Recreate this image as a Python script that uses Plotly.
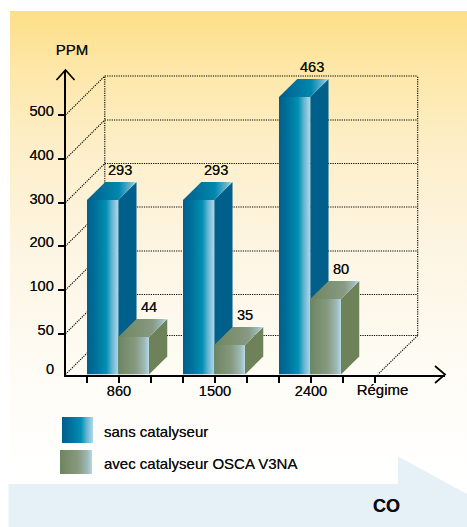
import plotly.graph_objects as go

# ---- data -------------------------------------------------------------
categories = ["860", "1500", "2400"]
sans_labels = [293, 293, 463]
avec_labels = [44, 35, 80]
# bar heights as drawn in the reference, in axis units (the axis is not proportional)
sans_heights = [174.5, 174.5, 277.5]
avec_heights = [37.5, 29.5, 75.5]
y_tick_labels = ["50", "100", "200", "300", "400", "500"]
y_tick_positions = [41, 84.5, 128.5, 172, 215.5, 259.5]
legend_labels = ["sans catalyseur", "avec catalyseur OSCA V3NA"]

# ---- style ------------------------------------------------------------
W, H = 467, 527
X0, X1, Y0, Y1 = 65.5, 445, 374.5, 70
UNIT = 96.0
xrange_ = [(X0 - 119) / UNIT, (X1 - 119) / UNIT]
yrange_ = [0, Y0 - Y1]
FONT = "Liberation Sans"
INK = "#0c0c0c"
SHADOW = "0 0 0.5px rgba(0,0,0,0.8)"
FS = 14.6
FL = 15.0
BAR_DX, BAR_DY = 18.3 / UNIT, 18.0
GRID_DX, GRID_DY = 39.3 / UNIT, 39.0

BLUE_FRONT = [[0, "#005e8c"], [0.3, "#00739c"], [0.62, "#0090b4"], [0.8, "#66b4d0"], [1, "#b0d8ec"]]
BLUE_TOP = [[0, "#005e8c"], [0.65, "#0088ae"], [0.85, "#5aaecb"], [1, "#b0d8ec"]]
BLUE_SIDE = "#005f8b"
GREEN_FRONT = [[0, "#6e8560"], [0.55, "#86997e"], [0.85, "#9db8b4"], [1, "#b4d8e8"]]
GREEN_TOP = [[0, "#6e8560"], [0.7, "#889a82"], [0.88, "#9db8b8"], [1, "#b8dcec"]]
GREEN_SIDE = "#6d8259"


def tfont(size=FS):
    return dict(family=FONT, size=size, color=INK, shadow=SHADOW)


fig = go.Figure()


def bg_poly(xs, ys, color=None, grad=None, gtype="vertical", start=None, stop=None):
    kw = dict(x=xs + xs[:1], y=ys + ys[:1], mode="lines", line=dict(width=0), fill="toself",
              hoverinfo="skip", showlegend=False, xaxis="x", yaxis="y")
    if grad:
        g = dict(type=gtype, colorscale=grad)
        if start is not None:
            g.update(start=start, stop=stop)
        kw["fillgradient"] = g
        kw["fillcolor"] = "rgba(0,0,0,0)"
    else:
        kw["fillcolor"] = color
    fig.add_trace(go.Scatter(**kw))


def bg_text(x, y, text, size=FL, anchor="middle center", bold=False):
    fig.add_trace(go.Scatter(x=[x], y=[y], mode="text", text=[f"<b>{text}</b>" if bold else text],
                             textposition=anchor, textfont=tfont(size),
                             hoverinfo="skip", showlegend=False, xaxis="x", yaxis="y", cliponaxis=False))


# page background (axes in page units)
bg_poly([10, 467, 467, 10], [11, 11, 484, 484],
        grad=[[0, "#fddf88"], [0.12, "#fde7a8"], [0.3, "#fdefca"], [0.5, "#fdf5e2"],
              [0.78, "#fefcf6"], [1, "#ffffff"]], start=11, stop=484)
bg_poly([8.5, 398, 398, 467, 467, 8.5], [484, 484, 456.5, 494, 527, 527], color="#e6f0f7")

# legend swatches and text
bg_poly([62, 93, 93, 62], [417, 417, 443, 443], grad=BLUE_FRONT, gtype="horizontal")
bg_poly([60, 92, 92, 60], [450, 450, 474, 474], grad=GREEN_FRONT, gtype="horizontal")
bg_text(104, 433, legend_labels[0], anchor="middle right")
bg_text(104, 465.5, legend_labels[1], anchor="middle right")
bg_text(386.5, 507, "CO", size=18, bold=True)
bg_text(72, 51, "PPM")


# ---- chart on the second axes --------------------------------------------
def line(xs, ys, color="#000000", width=1.0, dash=None, ax="2"):
    fig.add_trace(go.Scatter(x=xs, y=ys, mode="lines", line=dict(color=color, width=width, dash=dash),
                             hoverinfo="skip", showlegend=False, xaxis="x" + ax, yaxis="y" + ax))


DOT = "1.2px,1.1px"
GW = 1.1
back_left = xrange_[0] + GRID_DX
back_right = (417.7 - 119) / UNIT
floor_right = (377.7 - 119) / UNIT
all_ticks = [0] + y_tick_positions
for h in all_ticks:
    line([xrange_[0], back_left], [h, h + GRID_DY], dash=DOT, width=GW)
    line([back_left, back_right], [h + GRID_DY, h + GRID_DY], dash=DOT, width=GW)
line([back_left, back_left], [GRID_DY, y_tick_positions[-1] + GRID_DY], dash=DOT, width=GW)
line([back_right, back_right], [GRID_DY, y_tick_positions[-1] + GRID_DY], dash=DOT, width=GW)
line([back_right, floor_right], [GRID_DY, 0], dash=DOT, width=GW)


def box(x0, x1, h, front, top, side):
    common = dict(mode="lines", line=dict(width=0), fill="toself", hoverinfo="skip",
                  showlegend=False, xaxis="x2", yaxis="y2")
    fig.add_trace(go.Scatter(x=[x1, x1 + BAR_DX, x1 + BAR_DX, x1, x1],
                             y=[0, BAR_DY, h + BAR_DY, h, 0], fillcolor=side, **common))
    fig.add_trace(go.Scatter(x=[x0, x0 + BAR_DX, x1 + BAR_DX, x1, x0],
                             y=[h, h + BAR_DY, h + BAR_DY, h, h], fillcolor="rgba(0,0,0,0)",
                             fillgradient=dict(type="horizontal", colorscale=top), **common))
    fig.add_trace(go.Scatter(x=[x0, x1, x1, x0, x0], y=[0, 0, h, h, 0], fillcolor="rgba(0,0,0,0)",
                             fillgradient=dict(type="horizontal", colorscale=front), **common))


for i, c in enumerate(categories):
    box(i - 1 / 3, i - 0.008, sans_heights[i], BLUE_FRONT, BLUE_TOP, BLUE_SIDE)
    box(i - 0.008, i + 0.312, avec_heights[i], GREEN_FRONT, GREEN_TOP, GREEN_SIDE)

# ---- overlay axes: same scale as the chart, spanning the page, nothing is clipped
label_x = [i - 0.17 + 17.5 / UNIT for i in range(len(categories))]
fig.add_trace(go.Scatter(x=label_x, y=[h + 28.5 for h in sans_heights], mode="text",
                         text=[str(v) for v in sans_labels], name="sans catalyseur",
                         textfont=tfont(), hoverinfo="skip",
                         showlegend=False, xaxis="x3", yaxis="y3"))
label_x2 = [i + 0.152 + 15.5 / UNIT for i in range(len(categories))]
fig.add_trace(go.Scatter(x=label_x2, y=[h + 28.5 for h in avec_heights], mode="text",
                         text=[str(v) for v in avec_labels], name="avec catalyseur OSCA V3NA",
                         textfont=tfont(), hoverinfo="skip",
                         showlegend=False, xaxis="x3", yaxis="y3"))

# axis end arrows, zero label, Régime label
line([xrange_[1] - 10 / UNIT, xrange_[1], xrange_[1] - 10 / UNIT], [8.5, 0, -8.5], width=1.7, ax="3")
line([xrange_[0] - 9 / UNIT, xrange_[0], xrange_[0] + 9 / UNIT], [yrange_[1] - 10, yrange_[1], yrange_[1] - 10],
     width=1.7, ax="3")
fig.add_trace(go.Scatter(x=[(382.5 - 119) / UNIT], y=[-17], mode="text", text=["Régime"],
                         textfont=tfont(FL), hoverinfo="skip",
                         showlegend=False, xaxis="x3", yaxis="y3"))
fig.add_trace(go.Scatter(x=[(54 - 119) / UNIT], y=[4.5], mode="text", text=["0"], textposition="middle left",
                         textfont=tfont(), hoverinfo="skip",
                         showlegend=False, xaxis="x3", yaxis="y3"))

x_text = ["", categories[0], "", "", categories[1], "", "", categories[2], "", ""]
x_ticks_vals = [(87 + 32 * k - 119) / UNIT for k in range(10)]

fig.update_layout(
    width=W, height=H, margin=dict(l=0, r=0, t=0, b=0), autosize=False,
    paper_bgcolor="#ffffff", plot_bgcolor="rgba(0,0,0,0)", showlegend=False,
    font=dict(family=FONT, size=FS, color=INK),
    xaxis=dict(domain=[0, 1], range=[0, W], visible=False, fixedrange=True),
    yaxis=dict(domain=[0, 1], range=[H, 0], visible=False, fixedrange=True),
    xaxis2=dict(domain=[X0 / W, X1 / W], range=xrange_, anchor="y2", showgrid=False, zeroline=False,
                showline=True, linecolor="#000000", linewidth=1.6,
                tickmode="array", tickvals=x_ticks_vals, ticktext=x_text, ticks="outside",
                ticklen=7, tickwidth=1.5, tickcolor="#000000", ticklabelstandoff=-5,
                tickfont=tfont(), tickangle=0, fixedrange=True),
    yaxis2=dict(domain=[(H - Y0) / H, (H - Y1) / H], range=yrange_, anchor="x2", showgrid=False, zeroline=False,
                showline=True, linecolor="#000000", linewidth=1.6,
                tickmode="array", tickvals=y_tick_positions, ticktext=y_tick_labels, ticks="outside",
                ticklen=6, tickwidth=1.5, tickcolor="#000000", ticklabelshift=-4, ticklabelstandoff=1,
                tickfont=tfont(), fixedrange=True),
    xaxis3=dict(domain=[0, 1], range=[-119 / UNIT, (W - 119) / UNIT], anchor="y3", visible=False, fixedrange=True),
    yaxis3=dict(domain=[0, 1], range=[Y0 - H, Y0], anchor="x3", visible=False, fixedrange=True),
)

fig.write_html("out.html", config=dict(displayModeBar=False),
               post_script="document.body.style.margin='0';")
